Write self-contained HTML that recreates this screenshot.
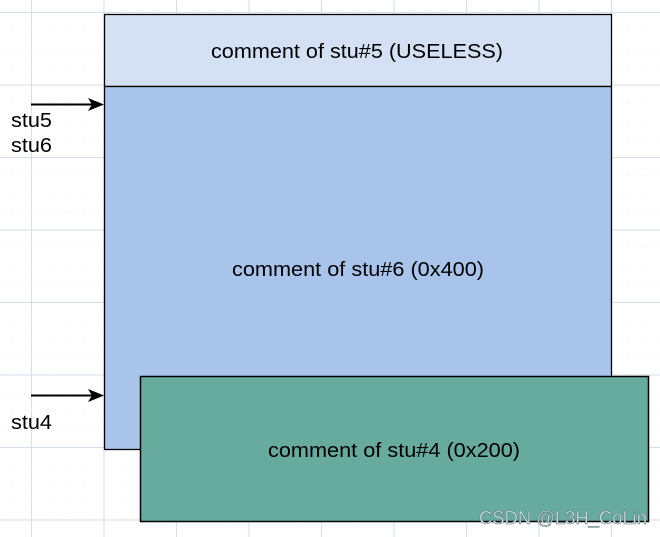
<!DOCTYPE html>
<html><head><style>
body{margin:0;width:660px;height:537px;overflow:hidden;background:#fff;font-family:"Liberation Sans",sans-serif;}
</style></head><body>
<svg width="660" height="537" xmlns="http://www.w3.org/2000/svg" style="position:absolute;left:0;top:0">
<defs>
<pattern id="minor" x="13" y="-6" width="18.1" height="18.1" patternUnits="userSpaceOnUse">
<path d="M0 0H18.1M0 0V18.1" stroke="#e4e9f2" stroke-width="1" stroke-dasharray="1,3" fill="none"/>
</pattern>
<pattern id="major" x="31" y="12" width="72.5" height="72.5" patternUnits="userSpaceOnUse">
<path d="M0.5 0V72.5M0 0.5H72.5" stroke="#d6dfee" stroke-width="1" fill="none"/>
</pattern>
</defs>
<rect width="660" height="537" fill="url(#minor)"/>
<rect width="660" height="537" fill="url(#major)"/>
<rect x="104.5" y="14.5" width="507" height="72" fill="#d4e1f5" stroke="#000" stroke-width="1.3"/>
<rect x="104.5" y="86.5" width="507" height="363" fill="#a9c4eb" stroke="#000" stroke-width="1.3"/>
<rect x="140.5" y="376.5" width="508" height="145" fill="#67ab9f" stroke="#000" stroke-width="1.5"/>
<text x="211" y="58" font-size="20" textLength="292" lengthAdjust="spacingAndGlyphs">comment of stu#5 (USELESS)</text>
<text x="232" y="276" font-size="20" textLength="252" lengthAdjust="spacingAndGlyphs">comment of stu#6 (0x400)</text>
<text x="268" y="457" font-size="20" textLength="252" lengthAdjust="spacingAndGlyphs">comment of stu#4 (0x200)</text>
<line x1="31" y1="104.5" x2="95" y2="104.5" stroke="#000" stroke-width="2"/>
<path d="M104 104.5 L88 98 L92 104.5 L88 111 Z" fill="#000"/>
<line x1="31" y1="395.5" x2="95" y2="395.5" stroke="#000" stroke-width="2"/>
<path d="M104 395.5 L88 389 L92 395.5 L88 402 Z" fill="#000"/>
<text x="11" y="127" font-size="20" textLength="41" lengthAdjust="spacingAndGlyphs">stu5</text>
<text x="11" y="152" font-size="20" textLength="41" lengthAdjust="spacingAndGlyphs">stu6</text>
<text x="11" y="429" font-size="20" textLength="41" lengthAdjust="spacingAndGlyphs">stu4</text>
<text x="479" y="524" font-size="18" textLength="168" lengthAdjust="spacingAndGlyphs" fill="#e8eef0" stroke="#5b7a80" stroke-width="0.6">CSDN @L3H_CoLin</text>
</svg>
</body></html>
